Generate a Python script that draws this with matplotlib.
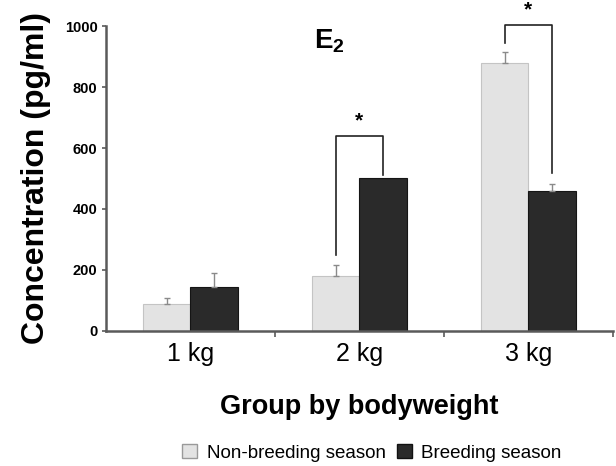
import numpy as np
import matplotlib.pyplot as plt
from matplotlib.patches import Patch

plt.rcParams['font.family'] = ['Liberation Sans', 'DejaVu Sans']
plt.rcParams['mathtext.fontset'] = 'custom'
plt.rcParams['mathtext.bf'] = 'Liberation Sans:bold'
plt.rcParams['mathtext.rm'] = 'Liberation Sans'

# data
groups = ['1 kg', '2 kg', '3 kg']
non_breeding = [88, 180, 878]
non_breeding_err = [20, 36, 36]
breeding = [144, 500, 459]
breeding_err = [46, 0, 22]

# significance brackets: group index, bracket top, left leg end, right leg end
sig_groups = [1, 2]
sig_top = [640, 1003]
sig_left = [249, 944]
sig_right = [511, 519]

light = '#e3e3e3'
dark = '#2a2a2a'
axis_col = '#5a5a5a'

fig = plt.figure(figsize=(6.16, 4.66), dpi=100)
ax = fig.add_axes([0.172, 0.29, 0.823, 0.654])

x = np.arange(len(groups))
w = 0.28
ax.bar(x - w / 2, non_breeding, w, color=light, edgecolor='#c4c4c4', linewidth=0.8, zorder=2)
ax.bar(x + w / 2, breeding, w, color=dark, edgecolor='#151515', linewidth=0.8, zorder=2)

# upward-only error bars (skip the ones with no visible error)
for xs, vals, errs in [(x - w / 2, non_breeding, non_breeding_err),
                       (x + w / 2, breeding, breeding_err)]:
    for xi, v, e in zip(xs, vals, errs):
        if e > 0:
            ax.errorbar(xi, v, yerr=[[0], [e]], fmt='none', ecolor='#8a8a8a',
                        elinewidth=1, capsize=2.5, zorder=3)

# brackets with stars
for g, top, lb, rb in zip(sig_groups, sig_top, sig_left, sig_right):
    xl, xr = g - w / 2, g + w / 2
    ax.plot([xl, xl, xr, xr], [lb, top, top, rb], color='#222222', lw=1.2,
            clip_on=False, zorder=4)
    ax.text(g, top + 18, '*', ha='center', va='bottom', fontsize=15,
            fontweight='bold', clip_on=False)

ax.text(0.82, 950, r'$\mathbf{E_2}$', ha='center', va='center', fontsize=20)

ax.set_xlim(-0.5, 2.5)
ax.set_ylim(0, 1000)
ax.set_yticks([0, 200, 400, 600, 800, 1000])
ax.tick_params(axis='y', direction='out', length=3, width=1.2, color=axis_col,
               labelsize=10.5, pad=3)
for lbl in ax.get_yticklabels():
    lbl.set_fontweight('bold')

ax.set_xticks(x)
ax.set_xticklabels(groups, fontsize=18)
ax.set_xticks([0.5, 1.5, 2.5], minor=True)
ax.tick_params(axis='x', which='major', length=0, pad=8)
ax.tick_params(axis='x', which='minor', direction='out', length=4, width=1.2, color=axis_col)

for s in ['top', 'right']:
    ax.spines[s].set_visible(False)
for s in ['left', 'bottom']:
    ax.spines[s].set_color(axis_col)
    ax.spines[s].set_linewidth(1.8)

ax.set_ylabel('Concentration (pg/ml)', fontsize=23, fontweight='bold', labelpad=10)
ax.set_xlabel('Group by bodyweight', fontsize=19.5, fontweight='bold', labelpad=20)

handles = [Patch(facecolor=light, edgecolor='#9a9a9a', label='Non-breeding season'),
           Patch(facecolor=dark, edgecolor='#111111', label='Breeding season')]
fig.legend(handles=handles, loc='center', bbox_to_anchor=(0.604, 0.028), ncol=2,
           frameon=False, fontsize=13.5, handlelength=0.8, handleheight=0.8,
           handletextpad=0.5, columnspacing=0.6)

fig.savefig('out.png', dpi=100)
